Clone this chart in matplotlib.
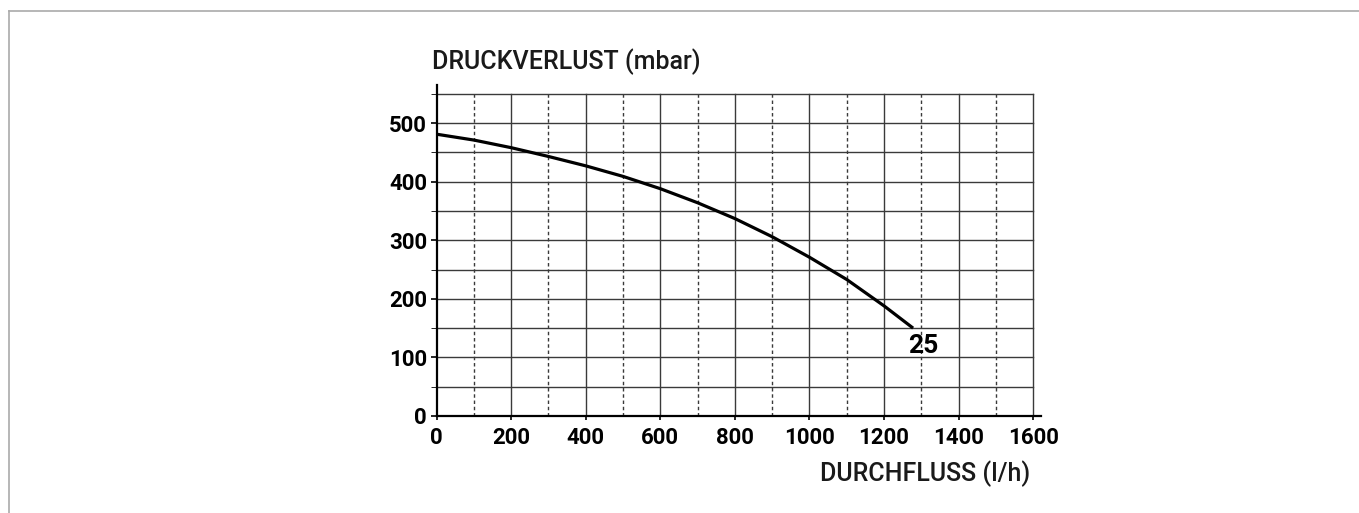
import matplotlib.pyplot as plt
from matplotlib.lines import Line2D

# Kennlinie
durchfluss = [0, 100, 200, 300, 400, 500, 600, 700, 800, 900, 1000, 1100, 1200, 1278]
druckverlust = [481, 471, 458, 443, 427, 409, 388, 364, 337, 306, 271, 233, 188, 150]
kurven_name = "25"

x_ticks = list(range(0, 1601, 200))
y_ticks = list(range(0, 501, 100))

plt.rcParams["font.family"] = ["Roboto", "DejaVu Sans"]

fig = plt.figure(figsize=(13.59, 5.13), dpi=100)
ax = fig.add_axes([0.3213, 0.1891, 0.4444, 0.6452])

ax.set_xlim(0, 1620)
ax.set_ylim(0, 565)

grid_col = "#3a3a3a"
for xv in range(100, 1601, 100):
    ls = "-" if xv % 200 == 0 else (0, (2.5, 2))
    ax.plot([xv, xv], [0, 550], color=grid_col, lw=1.0, ls=ls, zorder=1)
for yv in range(50, 551, 50):
    ax.plot([0, 1600], [yv, yv], color=grid_col, lw=1.0, zorder=1)

ax.plot(durchfluss, druckverlust, color="black", lw=2.3, zorder=3,
        solid_capstyle="butt")
ax.annotate(kurven_name, (durchfluss[-1], druckverlust[-1]),
            xytext=(7, -4), textcoords="offset points",
            ha="center", va="top", fontsize=19, fontweight="bold")

for side in ("top", "right"):
    ax.spines[side].set_visible(False)
for side in ("left", "bottom"):
    ax.spines[side].set_linewidth(1.6)
    ax.spines[side].set_color("black")

ax.set_xticks(x_ticks)
ax.set_yticks(y_ticks)
ax.set_yticks(range(50, 551, 100), minor=True)
ax.tick_params(axis="both", labelsize=16, width=1.2, color="black")
ax.tick_params(axis="x", length=3, pad=5)
ax.tick_params(axis="y", which="both", length=4, pad=3)
ax.tick_params(axis="x", which="minor", length=0)
for lab in ax.get_xticklabels() + ax.get_yticklabels():
    lab.set_fontweight("bold")

fig.text(0.3179, 0.879, "DRUCKVERLUST (mbar)", fontsize=18,
         fontweight="medium", ha="left", va="center", color="#1a1a1a")
fig.text(0.758, 0.076, "DURCHFLUSS (l/h)", fontsize=18,
         fontweight="medium", ha="right", va="center", color="#1a1a1a")

# Rahmen oben und links
fig.add_artist(Line2D([9 / 1359, 1], [1 - 10.5 / 513] * 2, color="#aaaaaa", lw=1.2))
fig.add_artist(Line2D([9 / 1359] * 2, [0, 1 - 10.5 / 513], color="#aaaaaa", lw=1.2))

fig.savefig("out.png", dpi=100)
